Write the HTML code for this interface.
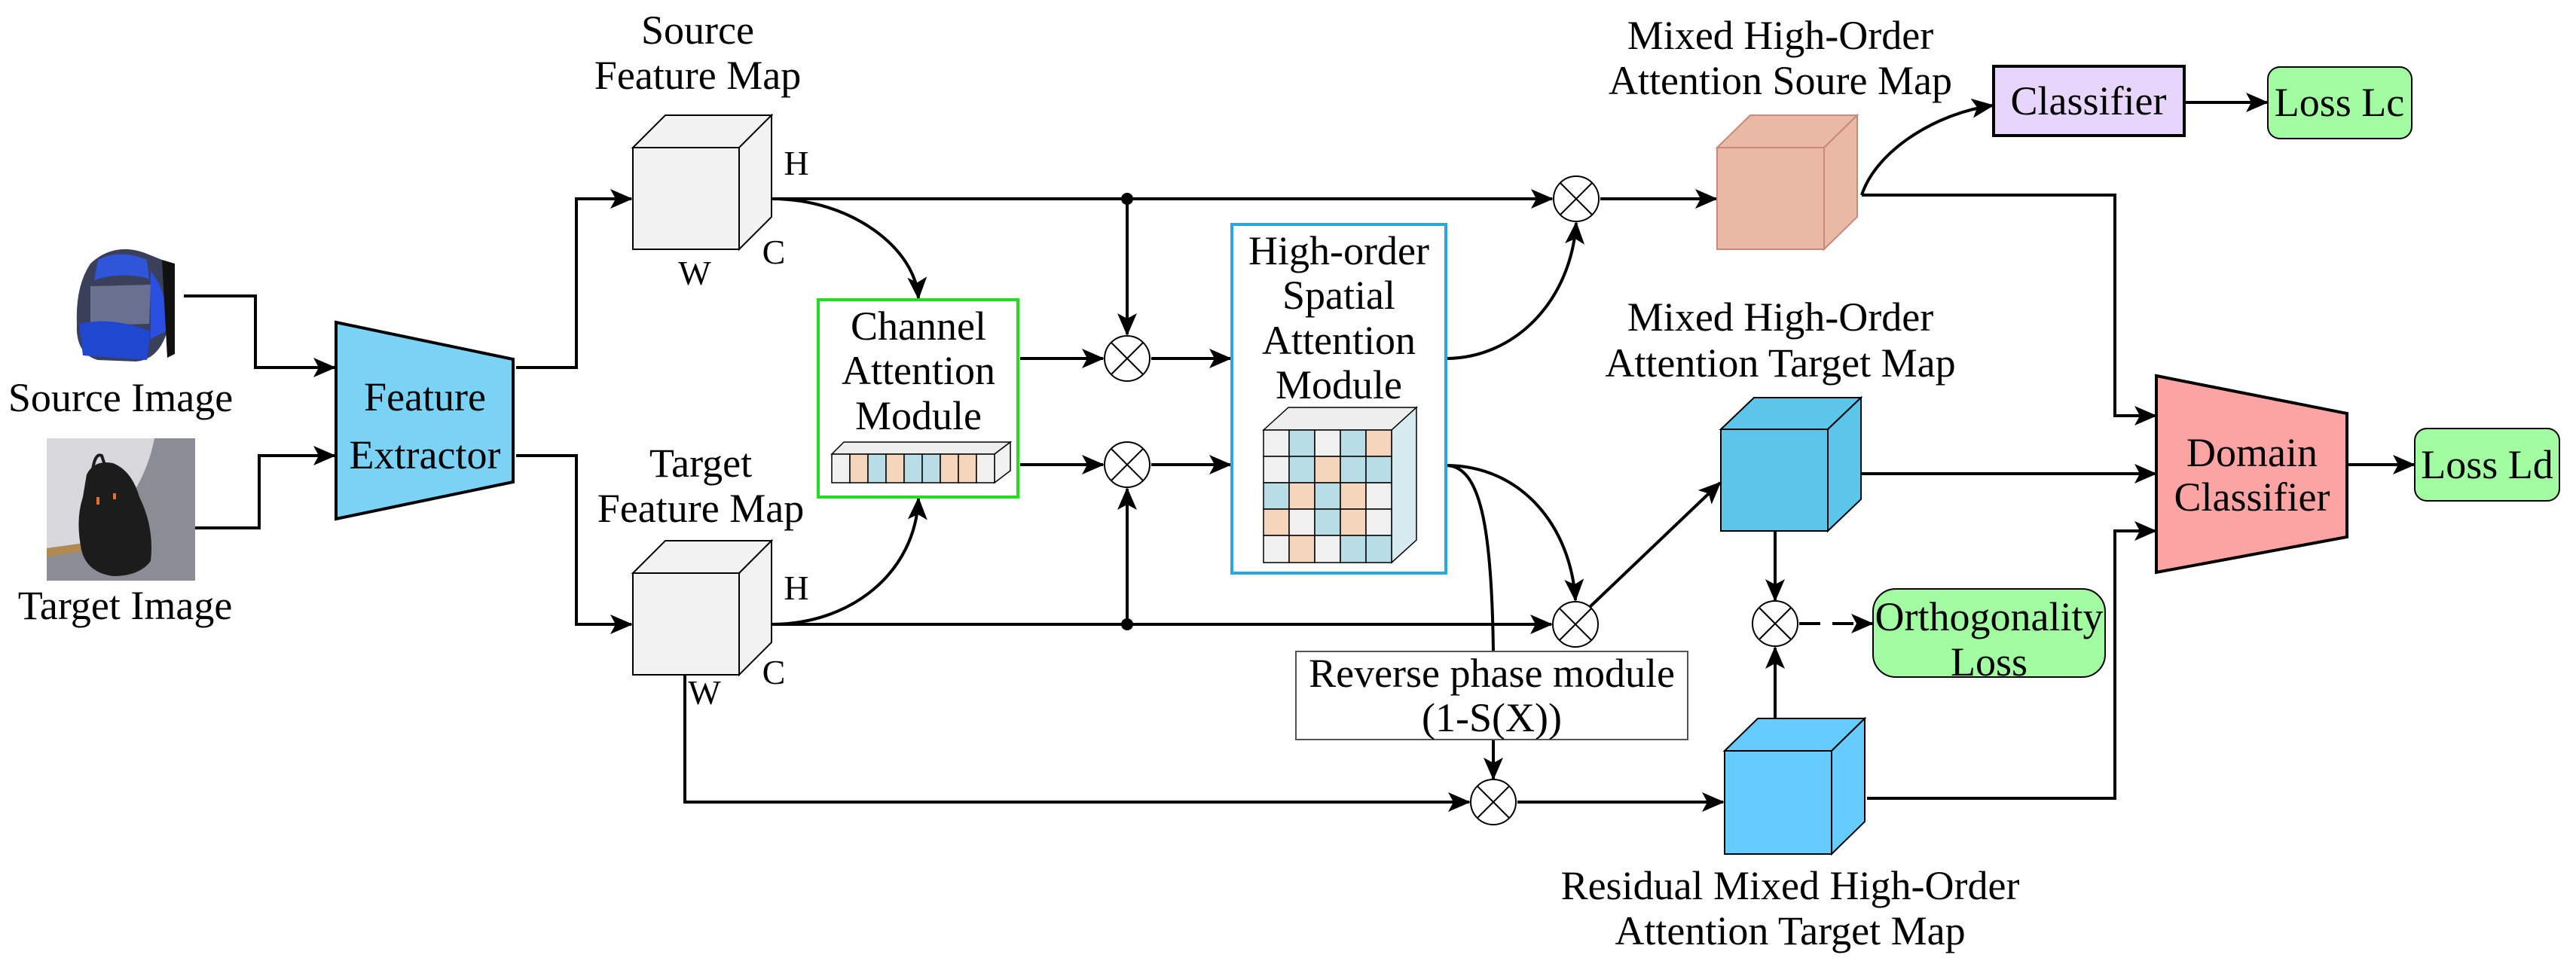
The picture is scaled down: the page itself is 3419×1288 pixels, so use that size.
<!DOCTYPE html>
<html><head><meta charset="utf-8"><style>
html,body{margin:0;padding:0;background:#fff}
svg{display:block}
svg text{font-family:"Liberation Serif","Times New Roman","DejaVu Serif",serif;font-size:54px;fill:#000}
</style></head><body>
<svg width="3419" height="1288" viewBox="0 0 3419 1288" xmlns="http://www.w3.org/2000/svg" font-family="Liberation Serif, serif">
<defs>
<marker id="a" markerUnits="userSpaceOnUse" markerWidth="30" markerHeight="26" refX="28" refY="13" orient="auto">
<path d="M0,0 L30,13 L0,26 L7,13 Z" fill="#000"/></marker>
</defs>
<g fill="none" stroke="#000" stroke-width="4">
<polyline points="244,393 339,393 339,488 444,488" marker-end="url(#a)"/>
<polyline points="258,701 344,701 344,605 444,605" marker-end="url(#a)"/>
<polyline points="685,488 765,488 765,264 838,264" marker-end="url(#a)"/>
<polyline points="685,605 765,605 765,829 838,829" marker-end="url(#a)"/>
<line x1="1024" y1="264" x2="2060" y2="264" marker-end="url(#a)"/>
<line x1="2124" y1="264" x2="2278" y2="264" marker-end="url(#a)"/>
<line x1="1496" y1="264" x2="1496" y2="444" marker-end="url(#a)"/>
<path d="M1024,264 C1130,264 1215,330 1219,396" marker-end="url(#a)"/>
<line x1="1354" y1="476" x2="1464" y2="476" marker-end="url(#a)"/>
<line x1="1528" y1="476" x2="1633" y2="476" marker-end="url(#a)"/>
<line x1="1354" y1="617" x2="1464" y2="617" marker-end="url(#a)"/>
<line x1="1528" y1="617" x2="1633" y2="617" marker-end="url(#a)"/>
<line x1="1024" y1="829" x2="2059" y2="829" marker-end="url(#a)"/>
<line x1="1496" y1="829" x2="1496" y2="649" marker-end="url(#a)"/>
<path d="M1024,829 C1130,829 1215,760 1219,662" marker-end="url(#a)"/>
<polyline points="909,896 909,1065 1950,1065" marker-end="url(#a)"/>
<line x1="2014" y1="1065" x2="2287" y2="1065" marker-end="url(#a)"/>
<path d="M1919,476 C2010,476 2085,400 2092,296" marker-end="url(#a)"/>
<path d="M1919,618 C2020,618 2085,700 2091,797" marker-end="url(#a)"/>
<path d="M1919,618 C1965,618 1980,700 1982,866"/>
<line x1="1982" y1="982" x2="1982" y2="1034" marker-end="url(#a)"/>
<line x1="2110" y1="806" x2="2283" y2="641" marker-end="url(#a)"/>
<path d="M2471,259 C2490,200 2570,150 2645,140" marker-end="url(#a)"/>
<line x1="2899" y1="136" x2="3009" y2="136" marker-end="url(#a)"/>
<polyline points="2471,259 2807,259 2807,552 2861,552" marker-end="url(#a)"/>
<line x1="2470" y1="629" x2="2861" y2="629" marker-end="url(#a)"/>
<polyline points="2478,1060 2807,1060 2807,705 2861,705" marker-end="url(#a)"/>
<line x1="3115" y1="617" x2="3204" y2="617" marker-end="url(#a)"/>
<line x1="2356" y1="705" x2="2356" y2="797" marker-end="url(#a)"/>
<line x1="2356" y1="953" x2="2356" y2="860" marker-end="url(#a)"/>
<line x1="2388" y1="828" x2="2485" y2="828" stroke-dasharray="28,16" marker-end="url(#a)"/>
</g>
<circle cx="1496" cy="264" r="8" fill="#000"/>
<circle cx="1496" cy="829" r="8" fill="#000"/>
<g fill="#fff" stroke="#000" stroke-width="2">
<ellipse cx="1496" cy="476" rx="30" ry="30"/><path d="M1475,455 L1517,497 M1517,455 L1475,497"/>
<ellipse cx="1496" cy="617" rx="30" ry="30"/><path d="M1475,596 L1517,638 M1517,596 L1475,638"/>
<ellipse cx="2092" cy="264" rx="30" ry="30"/><path d="M2071,243 L2113,285 M2113,243 L2071,285"/>
<ellipse cx="2091" cy="829" rx="30" ry="30"/><path d="M2070,808 L2112,850 M2112,808 L2070,850"/>
<ellipse cx="1982" cy="1065" rx="30" ry="30"/><path d="M1961,1044 L2003,1086 M2003,1044 L1961,1086"/>
<ellipse cx="2356" cy="828" rx="30" ry="30"/><path d="M2335,807 L2377,849 M2377,807 L2335,849"/>
</g>
<g>
<rect x="93" y="323" width="140" height="160" fill="#fff"/>
<path d="M120,350 Q150,322 190,335 L215,345 Q228,380 222,440 Q210,478 180,480 L130,478 Q100,470 102,430 Q100,380 120,350Z" fill="#3a3f5a"/>
<path d="M130,345 Q160,330 195,345 L198,370 Q160,360 125,372Z" fill="#2f55d8"/>
<path d="M120,380 L200,378 L198,430 L120,432Z" fill="#6a7090"/>
<path d="M105,430 Q150,420 200,440 L195,478 L110,472Z" fill="#1f47d0"/>
<path d="M200,360 Q225,390 220,440 L200,450Z" fill="#2a4fe0"/>
<path d="M215,345 L232,350 L232,470 L222,475Z" fill="#111"/>
<rect x="62" y="582" width="197" height="189" fill="#8a8c96"/>
<path d="M62,582 L205,582 Q190,660 120,720 L62,728Z" fill="#d8d8dc"/>
<path d="M62,728 L120,720 L120,730 L62,740Z" fill="#b08a50"/>
<path d="M115,630 Q125,610 150,615 Q175,625 185,660 Q205,700 200,745 Q185,765 150,765 Q115,760 108,730 Q100,690 110,660Z" fill="#1c1c1c"/>
<path d="M122,632 Q125,600 135,605 L140,620" fill="none" stroke="#1c1c1c" stroke-width="4"/>
<rect x="128" y="660" width="4" height="10" fill="#e87020"/><rect x="150" y="655" width="4" height="8" fill="#e87020"/>
</g>
<polygon points="446,428 681,477 681,640 446,689" fill="#7ad3f5" stroke="#000" stroke-width="4"/>
<text x="564" y="545" text-anchor="middle">Feature</text>
<text x="564" y="622" text-anchor="middle">Extractor</text>
<g stroke="#000" stroke-width="2">
<polygon points="840,196 883,153 1024,153 981,196" fill="#f2f2f2"/>
<polygon points="981,196 1024,153 1024,288 981,331" fill="#f2f2f2"/>
<rect x="840" y="196" width="141" height="135" fill="#f2f2f2"/>
<polygon points="840,761 883,718 1024,718 981,761" fill="#f2f2f2"/>
<polygon points="981,761 1024,718 1024,853 981,896" fill="#f2f2f2"/>
<rect x="840" y="761" width="141" height="135" fill="#f2f2f2"/>
<polygon points="2279,196 2323,153 2465,153 2421,196" fill="#e9b9a6" stroke="#c9887a"/>
<polygon points="2421,196 2465,153 2465,288 2421,331" fill="#e9b9a6" stroke="#c9887a"/>
<rect x="2279" y="196" width="142" height="135" fill="#e9b9a6" stroke="#c9887a"/>
<polygon points="2284,570 2328,528 2470,528 2426,570" fill="#5bc5ea"/>
<polygon points="2426,570 2470,528 2470,663 2426,705" fill="#5bc5ea"/>
<rect x="2284" y="570" width="142" height="135" fill="#5bc5ea"/>
<polygon points="2289,997 2333,954 2475,954 2431,997" fill="#66ccff"/>
<polygon points="2431,997 2475,954 2475,1091 2431,1134" fill="#66ccff"/>
<rect x="2289" y="997" width="142" height="137" fill="#66ccff"/>
</g>
<text x="1057" y="232" text-anchor="middle" font-size="46" style="font-size:46px">H</text>
<text x="1027" y="350" text-anchor="middle" style="font-size:46px">C</text>
<text x="922" y="378" text-anchor="middle" style="font-size:46px">W</text>
<text x="1057" y="796" text-anchor="middle" style="font-size:46px">H</text>
<text x="1027" y="908" text-anchor="middle" style="font-size:46px">C</text>
<text x="935" y="935" text-anchor="middle" style="font-size:46px">W</text>
<text x="926" y="58" text-anchor="middle">Source</text>
<text x="926" y="118" text-anchor="middle">Feature Map</text>
<text x="930" y="633" text-anchor="middle">Target</text>
<text x="930" y="693" text-anchor="middle">Feature Map</text>
<text x="160" y="546" text-anchor="middle">Source Image</text>
<text x="166" y="822" text-anchor="middle">Target Image</text>
<rect x="1086" y="398" width="265" height="262" fill="#fff" stroke="#22dd22" stroke-width="4"/>
<text x="1219" y="451" text-anchor="middle">Channel</text>
<text x="1219" y="510" text-anchor="middle">Attention</text>
<text x="1219" y="570" text-anchor="middle">Module</text>
<g stroke="#000" stroke-width="1.5">
<polygon points="1104,603 1120,587 1341,587 1320,603" fill="#eee"/>
<polygon points="1320,603 1341,587 1341,625 1320,641" fill="#f2f2f2"/>
<rect x="1104" y="603" width="24" height="38" fill="#f0f0f0"/>
<rect x="1128" y="603" width="24" height="38" fill="#f5d5bb"/>
<rect x="1152" y="603" width="24" height="38" fill="#b8dde6"/>
<rect x="1176" y="603" width="24" height="38" fill="#f5d5bb"/>
<rect x="1200" y="603" width="24" height="38" fill="#b8dde6"/>
<rect x="1224" y="603" width="24" height="38" fill="#b8dde6"/>
<rect x="1248" y="603" width="24" height="38" fill="#f5d5bb"/>
<rect x="1272" y="603" width="24" height="38" fill="#f5d5bb"/>
<rect x="1296" y="603" width="24" height="38" fill="#f0f0f0"/>
</g>
<rect x="1635" y="298" width="284" height="463" fill="#fff" stroke="#29a8e0" stroke-width="4"/>
<text x="1777" y="351" text-anchor="middle">High-order</text>
<text x="1777" y="410" text-anchor="middle">Spatial</text>
<text x="1777" y="470" text-anchor="middle">Attention</text>
<text x="1777" y="529" text-anchor="middle">Module</text>
<g stroke="#000" stroke-width="1.5">
<polygon points="1677,571 1710,541 1880,541 1847,571" fill="#eee"/>
<polygon points="1847,571 1880,541 1880,717 1847,747" fill="#d6eaf0"/>
<rect x="1677" y="571" width="34" height="35" fill="#f0f0f0"/><rect x="1711" y="571" width="34" height="35" fill="#b8dde6"/><rect x="1745" y="571" width="34" height="35" fill="#f0f0f0"/><rect x="1779" y="571" width="34" height="35" fill="#b8dde6"/><rect x="1813" y="571" width="34" height="35" fill="#f5d5bb"/>
<rect x="1677" y="606" width="34" height="35" fill="#f0f0f0"/><rect x="1711" y="606" width="34" height="35" fill="#b8dde6"/><rect x="1745" y="606" width="34" height="35" fill="#f5d5bb"/><rect x="1779" y="606" width="34" height="35" fill="#b8dde6"/><rect x="1813" y="606" width="34" height="35" fill="#b8dde6"/>
<rect x="1677" y="641" width="34" height="35" fill="#b8dde6"/><rect x="1711" y="641" width="34" height="35" fill="#f5d5bb"/><rect x="1745" y="641" width="34" height="35" fill="#b8dde6"/><rect x="1779" y="641" width="34" height="35" fill="#f5d5bb"/><rect x="1813" y="641" width="34" height="35" fill="#f0f0f0"/>
<rect x="1677" y="676" width="34" height="35" fill="#f5d5bb"/><rect x="1711" y="676" width="34" height="35" fill="#f0f0f0"/><rect x="1745" y="676" width="34" height="35" fill="#b8dde6"/><rect x="1779" y="676" width="34" height="35" fill="#f5d5bb"/><rect x="1813" y="676" width="34" height="35" fill="#f0f0f0"/>
<rect x="1677" y="711" width="34" height="36" fill="#f0f0f0"/><rect x="1711" y="711" width="34" height="36" fill="#f5d5bb"/><rect x="1745" y="711" width="34" height="36" fill="#f0f0f0"/><rect x="1779" y="711" width="34" height="36" fill="#b8dde6"/><rect x="1813" y="711" width="34" height="36" fill="#b8dde6"/>
</g>
<rect x="1720" y="865" width="520" height="117" fill="#fff" stroke="#555" stroke-width="2"/>
<text x="1980" y="912" text-anchor="middle">Reverse phase module</text>
<text x="1980" y="971" text-anchor="middle">(1-S(X))</text>
<text x="2363" y="65" text-anchor="middle">Mixed High-Order</text>
<text x="2363" y="125" text-anchor="middle">Attention Soure Map</text>
<text x="2363" y="439" text-anchor="middle">Mixed High-Order</text>
<text x="2363" y="500" text-anchor="middle">Attention Target Map</text>
<text x="2376" y="1194" text-anchor="middle">Residual Mixed High-Order</text>
<text x="2376" y="1254" text-anchor="middle">Attention Target Map</text>
<rect x="2646" y="88" width="253" height="92" fill="#e8d5fc" stroke="#000" stroke-width="4"/>
<text x="2772" y="152" text-anchor="middle">Classifier</text>
<rect x="3010" y="89" width="191" height="95" rx="16" fill="#a2fca2" stroke="#000" stroke-width="2"/>
<text x="3105" y="154" text-anchor="middle">Loss Lc</text>
<polygon points="2862,499 3115,549 3115,713 2862,760" fill="#fca4a4" stroke="#000" stroke-width="4"/>
<text x="2989" y="619" text-anchor="middle">Domain</text>
<text x="2989" y="678" text-anchor="middle">Classifier</text>
<rect x="3205" y="569" width="192" height="96" rx="16" fill="#a2fca2" stroke="#000" stroke-width="2"/>
<text x="3301" y="635" text-anchor="middle">Loss Ld</text>
<rect x="2486" y="782" width="308" height="117" rx="30" fill="#a2fca2" stroke="#000" stroke-width="2"/>
<text x="2640" y="837" text-anchor="middle">Orthogonality</text>
<text x="2640" y="897" text-anchor="middle">Loss</text>
</svg>
</body></html>
